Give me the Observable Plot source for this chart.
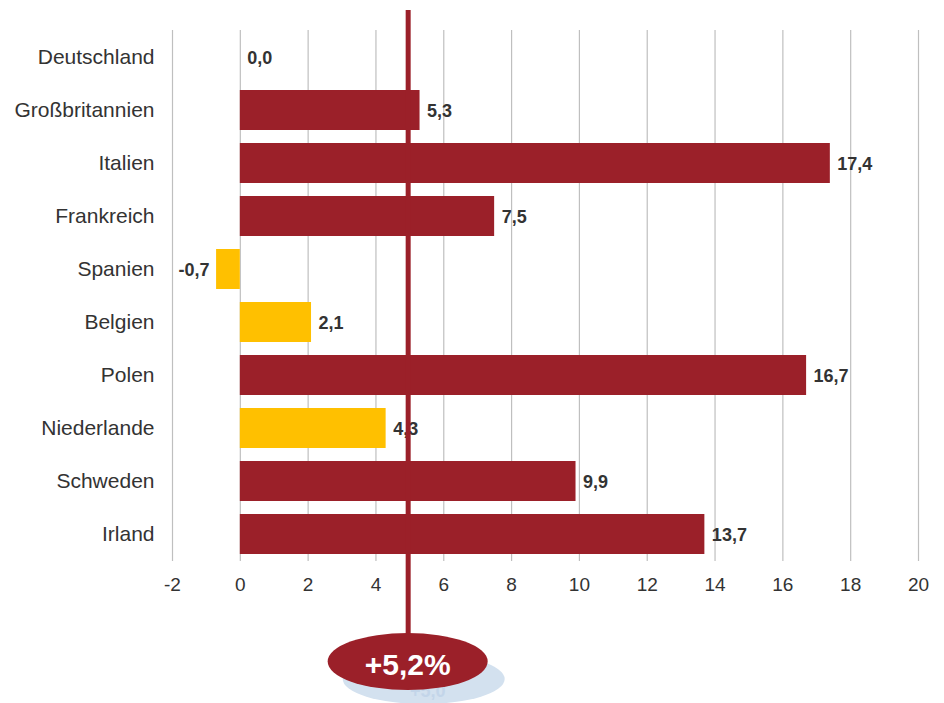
<!DOCTYPE html>
<html>
<head>
<meta charset="utf-8">
<script src="https://cdn.jsdelivr.net/npm/d3@7"></script>
<script src="https://cdn.jsdelivr.net/npm/@observablehq/plot@0.6"></script>
<style>
  html, body { margin: 0; padding: 0; background: #fff; }
  #chart { width: 944px; height: 703px; }
  #chart svg g[aria-label="y-axis tick label"] text { font-size: 21px; }
  #chart svg g[aria-label="x-axis tick label"] text { font-size: 19px; }
</style>
</head>
<body>
<div id="chart"></div>
<script>
const countries = ["Deutschland", "Großbritannien", "Italien", "Frankreich", "Spanien", "Belgien", "Polen", "Niederlande", "Schweden", "Irland"];
const values = [0.0, 5.3, 17.4, 7.5, -0.7, 2.1, 16.7, 4.3, 9.9, 13.7];
const groups = ["none", "above", "above", "above", "below", "below", "above", "below", "above", "above"];
const xTicks = [-2, 0, 2, 4, 6, 8, 10, 12, 14, 16, 18, 20];
const averageLine = 4.95;
const averageLabel = "+5,2%";
const shadowLabel = "+5,0";

const RED = "#9B2029";
const YELLOW = "#FFC000";

const data = countries.map((c, i) => ({country: c, value: values[i], group: groups[i], label: values[i].toFixed(1).replace(".", ",")}));

const chart = Plot.plot({
  width: 944,
  height: 703,
  marginLeft: 172,
  marginRight: 26,
  marginTop: 30,
  marginBottom: 142,
  style: {fontFamily: "'Liberation Sans', Arial, sans-serif", fontSize: "19px", color: "#333", background: "#fff"},
  x: {domain: [-2, 20], ticks: xTicks, tickFormat: d => String(d), label: null, tickSize: 0, tickPadding: 16},
  y: {domain: countries, paddingInner: 0.25, paddingOuter: 0.125, label: null, tickSize: 0, tickPadding: 18},
  color: {domain: ["none", "above", "below"], range: ["#ffffff", RED, YELLOW]},
  marks: [
    Plot.ruleX(xTicks, {stroke: "#BFBFBF", strokeWidth: 1.2}),
    Plot.barX(data.filter(d => d.value !== 0), {x: "value", y: "country", fill: "group"}),
    Plot.text(data.filter(d => d.value >= 0), {x: "value", y: "country", text: "label", dx: 7, dy: 1, textAnchor: "start", fontWeight: "bold", fontSize: 18, fill: "#333"}),
    Plot.text(data.filter(d => d.value < 0), {x: "value", y: "country", text: "label", dx: -7, dy: 1, textAnchor: "end", fontWeight: "bold", fontSize: 18, fill: "#333"}),
    Plot.ruleX([averageLine], {stroke: RED, strokeWidth: 5, insetTop: -20, insetBottom: -80})
  ]
});

document.getElementById("chart").appendChild(chart);

const xs = chart.scale("x");
const cx = xs.apply(averageLine);
const svg = d3.select(chart.tagName.toLowerCase() === "svg" ? chart : chart.querySelector("svg"));
const g = svg.append("g").attr("font-family", "'Liberation Sans', Arial, sans-serif");
g.append("ellipse").attr("cx", cx + 16).attr("cy", 679).attr("rx", 81).attr("ry", 25).attr("fill", "#D3E1EF");
g.append("text").attr("x", cx + 20).attr("y", 697).attr("text-anchor", "middle")
  .attr("font-size", 18).attr("font-weight", "bold").attr("fill", "#C3D5E9").text(shadowLabel);
g.append("ellipse").attr("cx", cx).attr("cy", 661.5).attr("rx", 80).attr("ry", 28.5).attr("fill", RED);
g.append("text").attr("x", cx).attr("y", 675).attr("text-anchor", "middle")
  .attr("font-size", 30).attr("font-weight", "bold").attr("fill", "#fff").text(averageLabel);
</script>
</body>
</html>
